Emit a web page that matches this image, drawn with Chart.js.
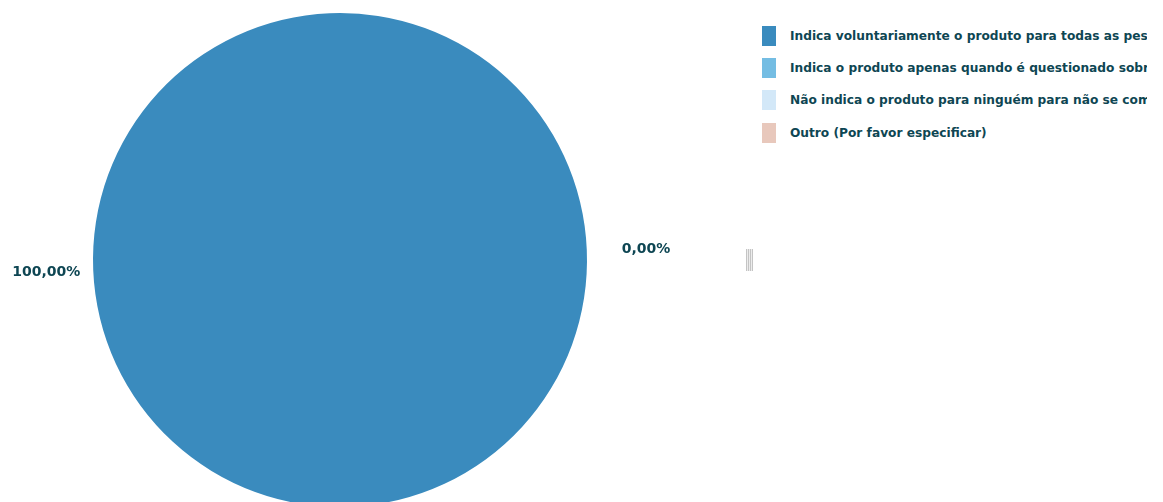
<!DOCTYPE html>
<html>
<head>
<meta charset="utf-8">
<script src="https://cdn.jsdelivr.net/npm/chart.js@4/dist/chart.umd.min.js"></script>
<style>
  body { margin: 0; background: #fff; }
  #wrap { position: relative; width: 1163px; height: 502px; overflow: hidden; }
  #pie { position: absolute; left: 0; top: 0; }
  #legend { position: absolute; left: 762px; top: 26px; width: 385px; overflow: hidden; white-space: nowrap;
            font: bold 12.2px "DejaVu Sans", Verdana, sans-serif; color: #0e4653; }
  #legend .row { height: 20px; margin-bottom: 12.2px; display: flex; align-items: center; }
  #legend .box { width: 14px; height: 20px; flex: none; margin-right: 14px; }
  #grip { position: absolute; left: 746px; top: 249px; width: 7px; height: 22px;
          background: repeating-linear-gradient(90deg, #c4c4c4 0 1px, #ececec 1px 2px); }
</style>
</head>
<body>
<div id="wrap">
  <canvas id="pie" width="680" height="520"></canvas>
  <div id="legend"></div>
  <div id="grip"></div>
</div>
<script>
const categories = [
  'Indica voluntariamente o produto para todas as pessoas',
  'Indica o produto apenas quando é questionado sobre',
  'Não indica o produto para ninguém para não se comprometer',
  'Outro (Por favor especificar)'
];
const shares = [100, 0, 0, 0];
const colors = ['#3a8bbe', '#74bde3', '#d3e8f8', '#e8c8bc'];

const fmt = v => v.toFixed(2).replace('.', ',') + '%';

// percentage labels outside the pie, one per distinct position
const outsideLabels = {
  id: 'outsideLabels',
  afterDatasetsDraw(chart) {
    const ctx = chart.ctx;
    const seen = new Set();
    ctx.save();
    ctx.font = 'bold 14px "DejaVu Sans", Verdana, sans-serif';
    ctx.fillStyle = '#0e4653';
    ctx.textBaseline = 'middle';
    chart.getDatasetMeta(0).data.forEach((arc, i) => {
      const p = arc.getProps(['x', 'y', 'startAngle', 'endAngle', 'outerRadius'], true);
      const mid = (p.startAngle + p.endAngle) / 2;
      const cos = Math.cos(mid), sin = Math.sin(mid);
      const gap = cos < 0 ? 13 : 35;
      const x = p.x + cos * (p.outerRadius + gap);
      const y = p.y + sin * (p.outerRadius + gap);
      const key = Math.round(x) + ':' + Math.round(y);
      if (seen.has(key)) return;
      seen.add(key);
      ctx.textAlign = cos < 0 ? 'right' : 'left';
      ctx.fillText(fmt(shares[i]), x, y + 1);
    });
    ctx.restore();
  }
};

const chart = new Chart(document.getElementById('pie'), {
  type: 'pie',
  data: {
    labels: categories,
    datasets: [{
      data: shares,
      backgroundColor: colors,
      borderWidth: 0
    }]
  },
  options: {
    responsive: false,
    animation: false,
    rotation: 87.6,
    layout: { padding: { top: 13, bottom: 13 } },
    plugins: { legend: { display: false }, tooltip: { enabled: false } }
  },
  plugins: [outsideLabels]
});

// legend built from the chart's own label items
const legendEl = document.getElementById('legend');
chart.options.plugins.legend.labels.generateLabels(chart).forEach(item => {
  const row = document.createElement('div');
  row.className = 'row';
  const box = document.createElement('span');
  box.className = 'box';
  box.style.background = item.fillStyle;
  const txt = document.createElement('span');
  txt.textContent = item.text;
  row.append(box, txt);
  legendEl.appendChild(row);
});
</script>
</body>
</html>
